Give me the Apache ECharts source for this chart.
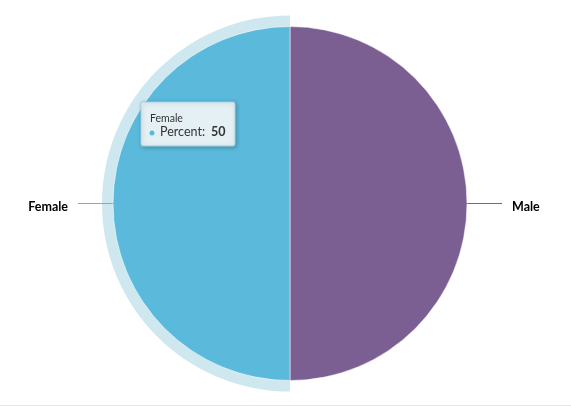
<!DOCTYPE html>
<html><head><meta charset="utf-8">
<script src="https://cdn.jsdelivr.net/npm/echarts@6/dist/echarts.min.js"></script>
<style>html,body{margin:0;padding:0;background:#fff}#c{width:571px;height:407px}</style>
</head><body><div id="c"></div>
<script>
const categories = ['Male', 'Female'];
const percents = [50, 50];
const colors = ['#7b5f93', '#5bbadb'];
const hovered = 'Female';

const chart = echarts.init(document.getElementById('c'), null, {renderer: 'canvas'});
const mainData = categories.map((c, i) => ({name: c, value: percents[i], itemStyle: {color: colors[i]},
  labelLine: {lineStyle: {color: colors[i]}}}));
const haloData = categories.map((c, i) => ({name: c, value: percents[i],
  itemStyle: {color: c === hovered ? '#cfe7ef' : 'rgba(0,0,0,0)'}}));
const hi = categories.indexOf(hovered);

chart.setOption({
  animation: false,
  series: [
    {
      type: 'pie', silent: true, center: [290, 203.5], radius: [177, 188], startAngle: 90, clockwise: true,
      label: {show: false}, labelLine: {show: false}, data: haloData, z: 1
    },
    {
      type: 'pie', center: [290, 203.5], radius: [0, 177], startAngle: 90, clockwise: true,
      itemStyle: {borderColor: '#ffffff', borderWidth: 0.5},
      label: {show: true, position: 'outside', color: '#000', fontFamily: 'Lato', fontWeight: 'bold', fontSize: 12.5,
        distanceToLabelLine: 10},
      labelLine: {show: true, length: 17, length2: 18, lineStyle: {width: 1}},
      labelLayout: {dy: 3},
      emphasis: {disabled: true},
      data: mainData, z: 2
    }
  ],
  graphic: {elements: [
    {type: 'line', shape: {x1: 0, y1: 405.5, x2: 571, y2: 405.5}, style: {stroke: '#e6e6e6', lineWidth: 1}},
    {type: 'rect', x: 141, y: 102, z: 100, shape: {x: 0, y: 0, width: 94, height: 44, r: 2},
      style: {fill: 'rgba(238,245,248,0.95)', stroke: '#9fd3e6', lineWidth: 1,
        shadowBlur: 4, shadowColor: 'rgba(0,0,0,0.25)', shadowOffsetX: 1, shadowOffsetY: 1}},
    {type: 'text', x: 150, y: 119, z: 101, style: {text: categories[hi], fill: '#333', fontFamily: 'Lato', fontSize: 10.5, verticalAlign: 'middle'}},
    {type: 'circle', x: 152, y: 133, z: 101, shape: {cx: 0, cy: 0, r: 2.5}, style: {fill: colors[hi]}},
    {type: 'text', x: 160, y: 131.5, z: 101, style: {text: 'Percent: ', fill: '#333', fontFamily: 'Lato', fontSize: 12.5, verticalAlign: 'middle'}},
    {type: 'text', x: 211, y: 131.5, z: 101, style: {text: String(percents[hi]), fill: '#333', fontFamily: 'Lato', fontWeight: 'bold', fontSize: 12.5, verticalAlign: 'middle'}}
  ]}
});
</script></body></html>
